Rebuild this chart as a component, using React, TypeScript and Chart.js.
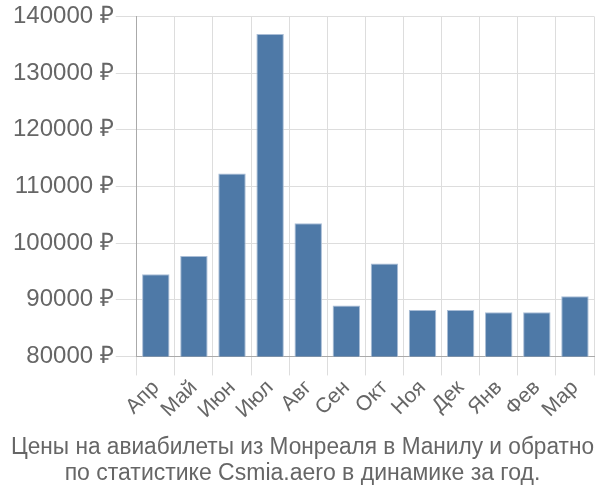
import React, { useEffect, useRef } from "react";
import { Chart, registerables } from "chart.js";

Chart.register(...registerables);

const months = ["Апр", "Май", "Июн", "Июл", "Авг", "Сен", "Окт", "Ноя", "Дек", "Янв", "Фев", "Мар"];
const prices = [94500, 97700, 112300, 136900, 103500, 89000, 96400, 88200, 88200, 87800, 87800, 90600];
const yTicks = { min: 80000, max: 140000, step: 10000 };
const titleLines = [
  "Цены на авиабилеты из Монреаля в Манилу и обратно",
  "по статистике Csmia.aero в динамике за год.",
];

export default function App() {
  const ref = useRef<HTMLCanvasElement | null>(null);
  useEffect(() => {
    if (!ref.current) return;
    const font = "'Liberation Sans', Arial, sans-serif";
    const chart = new Chart(ref.current, {
      type: "bar",
      data: {
        labels: months,
        datasets: [
          {
            data: prices,
            backgroundColor: "#4e79a7",
            borderColor: "#a9bdd6",
            borderWidth: 1,
          },
        ],
      },
      options: {
        animation: false,
        responsive: false,
        layout: { padding: { top: 2, right: 6, left: 11, bottom: 0 } },
        plugins: {
          legend: { display: false },
          tooltip: { enabled: false },
          title: {
            display: true,
            position: "bottom",
            text: titleLines,
            color: "#666",
            font: { family: font, size: 23, weight: "normal", lineHeight: 1.1 },
            padding: { top: 12, bottom: 14 },
          },
        },
        scales: {
          x: {
            grid: { color: "#dddddd", tickLength: 19, lineWidth: 1 },
            border: { color: "#aaaaaa" },
            ticks: {
              color: "#666",
              font: { family: font, size: 21 },
              maxRotation: 45,
              minRotation: 45,
              autoSkip: false,
              padding: 0,
            },
          },
          y: {
            min: yTicks.min,
            max: yTicks.max,
            grid: { color: "#dddddd", tickLength: 21, lineWidth: 1 },
            border: { color: "#aaaaaa" },
            ticks: {
              stepSize: yTicks.step,
              color: "#666",
              font: { family: font, size: 24 },
              padding: 2,
              callback: (v: any) => `${v} ₽`,
            },
          },
        },
      },
    });
    return () => chart.destroy();
  }, []);
  return (
    <div style={{ position: "fixed", left: 0, top: 0, width: 600, height: 500, background: "#fff" }}>
      <canvas ref={ref} width={600} height={500} />
    </div>
  );
}
